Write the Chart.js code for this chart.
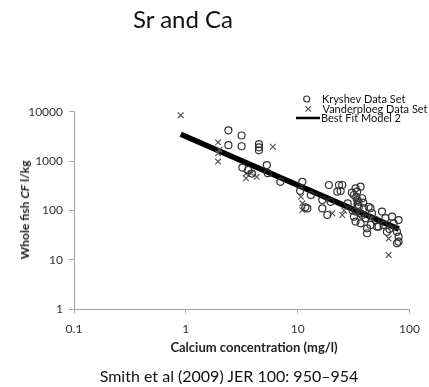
<!DOCTYPE html>
<html>
<head>
<meta charset="utf-8">
<script src="https://cdn.jsdelivr.net/npm/chart.js@4.4.1/dist/chart.umd.min.js"></script>
<style>
  body { margin: 0; background: #fff; }
  #wrap { position: relative; width: 429px; height: 387px; overflow: hidden; font-family: Lato, "Open Sans", sans-serif; color: #111; }
  .lbl { position: absolute; white-space: nowrap; transform: translate(-50%, -50%); line-height: 1; }
  #ytitle { transform: translate(-50%, -50%) rotate(-90deg); }
</style>
</head>
<body>
<div id="wrap">
  <canvas id="chart" width="429" height="387"></canvas>
  <div class="lbl" id="title" style="left:183px; top:19px; font-size:24px;">Sr and Ca</div>
  <div class="lbl" id="ytitle" style="left:25px; top:210px; font-size:12px; font-weight:bold; color:#222;">Whole fish <i>CF</i> l/kg</div>
  <div class="lbl" id="xtitle" style="left:254px; top:347px; font-size:13px; font-weight:bold; color:#222;">Calcium concentration (mg/l)</div>
  <div class="lbl" id="caption" style="left:229px; top:376px; font-size:16px;">Smith et al (2009) JER 100: 950–954</div>
</div>
<script>
// Kryshev data set (circles)
const kryshevX = [2.4, 3.15, 2.4, 3.15, 4.5, 4.5, 4.5, 3.2, 3.6, 5.3, 5.4, 7.0, 3.9,
  11.0, 13.1, 12.2, 19.0, 23.4, 22.6, 16.6, 16.6, 18.4, 19.7, 11.7, 10.5,
  25.0, 24.2, 32.9, 36.5, 31.8, 34.0, 37.7, 35.2, 39.0, 32.9, 37.7, 40.4, 36.5,
  44.8, 46.2, 49.6, 44.8, 51.2, 56.7, 60.8, 58.7, 69.7, 79.8, 52.8, 41.7, 41.7,
  62.7, 77.2, 79.8, 79.8, 77.2, 32.9, 31.8, 28.0, 30.5, 34.5, 43.1, 36.5, 72.0, 66.0,
  33.5, 35.0, 38.5, 31.0, 34.0];
const kryshevY = [4200, 3300, 2100, 2000, 2200, 1900, 1650, 740, 660, 830, 570, 380, 560,
  380, 205, 110, 328, 328, 240, 163, 110, 81, 150, 116, 250,
  328, 248, 281, 303, 206, 163, 177, 119, 111, 95, 81, 70, 55,
  111, 88, 64, 51, 47, 95, 70, 51, 75, 64, 47, 43.6, 34.6,
  37, 37, 29.5, 23.4, 21.7, 59.6, 75, 140, 230, 130, 119, 88, 55, 42,
  190, 150, 145, 100, 240];

// Vanderploeg data set (crosses)
const vanderX = [0.9, 1.94, 1.94, 1.94, 2.0, 6.0, 3.45, 3.45, 4.3, 3.84, 10.7, 11.0, 11.0,
  25.0, 26.0, 20.4, 65.0, 65.0, 33.0, 45.0];
const vanderY = [8500, 2400, 1440, 980, 1700, 1950, 560, 450, 480, 566, 190, 140, 102,
  81, 100, 88, 12.6, 27, 150, 70];

// Best fit model 2
const fitX = [0.9, 80];
const fitY = [3500, 42];

const xTicks = [0.1, 1, 10, 100];
const yTicks = [1, 10, 100, 1000, 10000];

const toPts = (xs, ys) => xs.map((x, i) => ({ x: x, y: ys[i] }));

const legendPlugin = {
  id: 'customLegend',
  afterDraw(chart) {
    const ctx = chart.ctx;
    ctx.save();
    ctx.strokeStyle = '#333';
    ctx.lineWidth = 1.2;
    ctx.beginPath();
    ctx.arc(306.7, 99, 3, 0, Math.PI * 2);
    ctx.stroke();
    ctx.strokeStyle = '#555';
    ctx.beginPath();
    ctx.moveTo(305.5, 106.2); ctx.lineTo(311, 111.7);
    ctx.moveTo(311, 106.2); ctx.lineTo(305.5, 111.7);
    ctx.stroke();
    ctx.strokeStyle = '#000';
    ctx.lineWidth = 2.5;
    ctx.beginPath();
    ctx.moveTo(296, 118); ctx.lineTo(320, 118);
    ctx.stroke();
    ctx.fillStyle = '#111';
    ctx.font = '11px Lato';
    ctx.textBaseline = 'middle';
    ctx.fillText('Kryshev Data Set', 322, 99);
    ctx.fillText('Vanderploeg Data Set', 322.5, 109);
    ctx.fillText('Best Fit Model 2', 321, 118);
    ctx.restore();
  }
};

new Chart(document.getElementById('chart'), {
  type: 'scatter',
  data: {
    datasets: [
      {
        label: 'Kryshev Data Set',
        data: toPts(kryshevX, kryshevY),
        pointStyle: 'circle',
        pointRadius: 3.5,
        borderColor: '#333',
        backgroundColor: 'rgba(0,0,0,0)',
        borderWidth: 1.2
      },
      {
        label: 'Vanderploeg Data Set',
        data: toPts(vanderX, vanderY),
        pointStyle: 'crossRot',
        pointRadius: 4,
        borderColor: '#555',
        borderWidth: 1.2
      },
      {
        label: 'Best Fit Model 2',
        data: toPts(fitX, fitY),
        showLine: true,
        pointRadius: 0,
        borderColor: '#000',
        borderWidth: 5.5
      }
    ]
  },
  options: {
    responsive: false,
    animation: false,
    devicePixelRatio: 1,
    layout: { padding: { top: 111.7, right: 17.3, left: 0, bottom: 0 } },
    plugins: {
      legend: { display: false },
      tooltip: { enabled: false }
    },
    scales: {
      x: {
        type: 'logarithmic',
        min: 0.1,
        max: 100,
        afterBuildTicks: s => { s.ticks = xTicks.map(v => ({ value: v })); },
        afterFit: s => { s.height = 77.7; },
        ticks: {
          autoSkip: false,
          maxRotation: 0,
          padding: 9,
          color: '#333',
          font: { family: 'Lato', size: 12 },
          callback: v => String(v)
        },
        border: { color: '#a6a6a6' },
        grid: { drawOnChartArea: false, tickLength: 4, color: '#a6a6a6' }
      },
      y: {
        type: 'logarithmic',
        min: 1,
        max: 10000,
        afterBuildTicks: s => { s.ticks = yTicks.map(v => ({ value: v })); },
        afterFit: s => { s.width = 74; },
        ticks: {
          autoSkip: false,
          padding: 6,
          color: '#333',
          font: { family: 'Lato', size: 12 },
          callback: v => String(v)
        },
        border: { color: '#a6a6a6' },
        grid: { drawOnChartArea: false, tickLength: 5, color: '#a6a6a6' }
      }
    }
  },
  plugins: [legendPlugin]
});
</script>
</body>
</html>
